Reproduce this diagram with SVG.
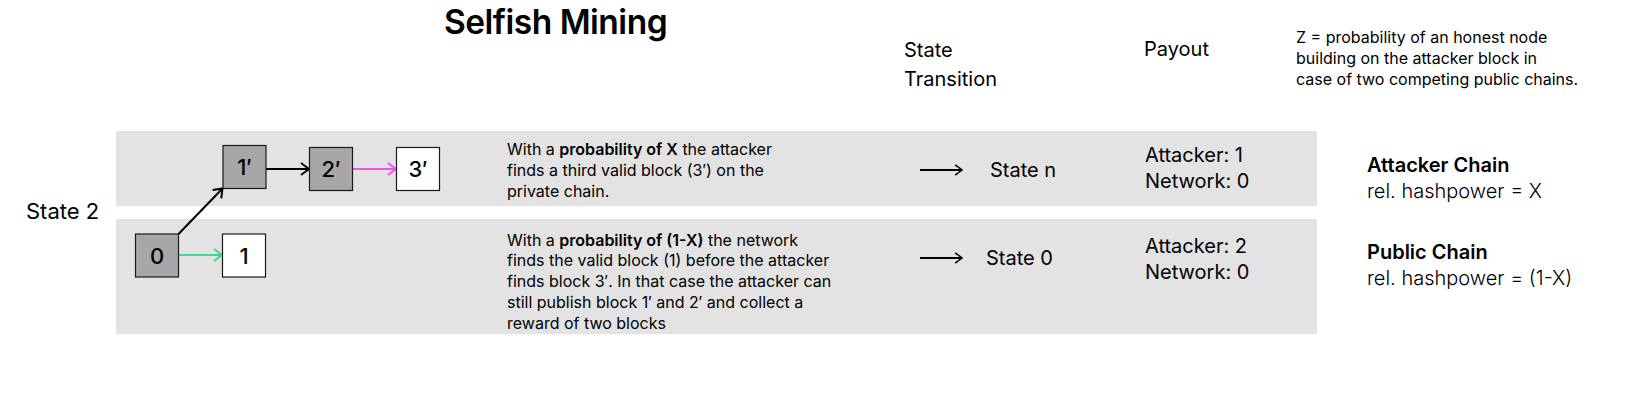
<svg xmlns="http://www.w3.org/2000/svg" width="1628" height="413" viewBox="0 0 1628 413">
<style>
text{font-family:Inter,"Noto Sans","Liberation Sans",sans-serif;fill:#000}
.t16{font-size:16px}
.t20{font-size:20px}
.b{font-weight:600}
.sb{font-weight:600}
.lt{font-weight:300}
.band{fill:#e3e3e3}
.blk{stroke:#1a1a1a;stroke-width:1.2}
.priv{fill:#a8a6a6}
.pub{fill:#ffffff}
.lbl{font-size:22px;font-weight:500;text-anchor:middle}
.ln{fill:none;stroke-width:2}
</style>
<defs>
<marker id="hk" viewBox="0 0 10 14" markerWidth="10" markerHeight="14" refX="9" refY="7" orient="auto" markerUnits="userSpaceOnUse"><path d="M1,1 L9,7 L1,13" fill="none" stroke="#000" stroke-width="2"/></marker>
<marker id="hm" viewBox="0 0 10 14" markerWidth="10" markerHeight="14" refX="9" refY="7" orient="auto" markerUnits="userSpaceOnUse"><path d="M1,1 L9,7 L1,13" fill="none" stroke="#ef55ea" stroke-width="2"/></marker>
<marker id="hg" viewBox="0 0 10 14" markerWidth="10" markerHeight="14" refX="9" refY="7" orient="auto" markerUnits="userSpaceOnUse"><path d="M1,1 L9,7 L1,13" fill="none" stroke="#3ad98e" stroke-width="2"/></marker>
<marker id="ht" viewBox="0 0 10 14" markerWidth="9" markerHeight="12" refX="9" refY="7" orient="auto" markerUnits="userSpaceOnUse"><path d="M1,1 L9,7 L1,13" fill="none" stroke="#000" stroke-width="1.8"/></marker>
</defs>

<g id="bands">
<rect class="band" x="116" y="131" width="1201" height="75"/>
<rect class="band" x="116" y="219" width="1201" height="115"/>
</g>

<text id="title" x="444" y="34" style="font-size:33.5px;font-weight:600;letter-spacing:-0.5px">Selfish Mining</text>
<text id="hdr-transition" class="t20" x="904" y="57"><tspan x="904">State</tspan><tspan x="904" dy="29">Transition</tspan></text>
<text id="hdr-payout" class="t20" x="1144" y="56">Payout</text>
<text id="note-z" class="t16" x="1296" y="43"><tspan x="1296">Z = probability of an honest node</tspan><tspan x="1296" dy="20.8">building on the attacker block in</tspan><tspan x="1296" dy="20.8">case of two competing public chains.</tspan></text>

<text id="state2" x="26" y="219" style="font-size:22px">State 2</text>

<g id="connectors">
<path class="ln" d="M178.5,234 L222.5,188.5" stroke="#000" marker-end="url(#hk)"/>
<path class="ln" d="M265.5,169 L309,169" stroke="#000" marker-end="url(#hk)"/>
<path class="ln" d="M352,169 L396,169" stroke="#ef55ea" marker-end="url(#hm)"/>
<path class="ln" d="M178.5,255 L222,255" stroke="#3ad98e" marker-end="url(#hg)"/>
<path d="M920,170 L962,170" fill="none" stroke="#000" stroke-width="1.8" marker-end="url(#ht)"/>
<path d="M920,258 L962,258" fill="none" stroke="#000" stroke-width="1.8" marker-end="url(#ht)"/>
</g>

<g id="node-1p"><rect class="blk priv" x="223" y="145.5" width="43" height="43"/><text class="lbl" x="244.5" y="175">1′</text></g>
<g id="node-2p"><rect class="blk priv" x="309.5" y="147.5" width="43" height="43"/><text class="lbl" x="331" y="177">2′</text></g>
<g id="node-3p"><rect class="blk pub" x="396.5" y="147.5" width="43" height="43"/><text class="lbl" x="418" y="177">3′</text></g>
<g id="node-0"><rect class="blk priv" x="135.5" y="234" width="43" height="43"/><text class="lbl" x="157" y="263.5">0</text></g>
<g id="node-1"><rect class="blk pub" x="222.5" y="234" width="43" height="43"/><text class="lbl" x="244" y="263.5">1</text></g>

<g id="desc-top">
<text class="t16" x="507" y="154.5"><tspan x="507">With a <tspan class="b">probability of X</tspan> the attacker</tspan><tspan x="507" dy="21">finds a third valid block (3′) on the</tspan><tspan x="507" dy="21">private chain.</tspan></text>
</g>
<g id="desc-bottom">
<text class="t16" x="507" y="245.5"><tspan x="507">With a <tspan class="b">probability of (1-X)</tspan> the network</tspan><tspan x="507" dy="20.8">finds the valid block (1) before the attacker</tspan><tspan x="507" dy="20.8">finds block 3′. In that case the attacker can</tspan><tspan x="507" dy="20.8">still publish block 1′ and 2′ and collect a</tspan><tspan x="507" dy="20.8">reward of two blocks</tspan></text>
</g>

<g id="state-n"><text class="t20" x="990" y="177">State n</text></g>
<g id="state-0"><text class="t20" x="986" y="265">State 0</text></g>

<g id="payout-top"><text class="t20" x="1145" y="161.5"><tspan x="1145">Attacker: 1</tspan><tspan x="1145" dy="26.5">Network: 0</tspan></text></g>
<g id="payout-bottom"><text class="t20" x="1145" y="252.5"><tspan x="1145">Attacker: 2</tspan><tspan x="1145" dy="26.5">Network: 0</tspan></text></g>

<g id="attacker-chain"><text class="t20" x="1367" y="172"><tspan x="1367" class="sb">Attacker Chain</tspan><tspan x="1367" dy="25.5" class="lt">rel. hashpower = X</tspan></text></g>
<g id="public-chain"><text class="t20" x="1367" y="259"><tspan x="1367" class="sb">Public Chain</tspan><tspan x="1367" dy="25.5" class="lt">rel. hashpower = (1-X)</tspan></text></g>
</svg>
